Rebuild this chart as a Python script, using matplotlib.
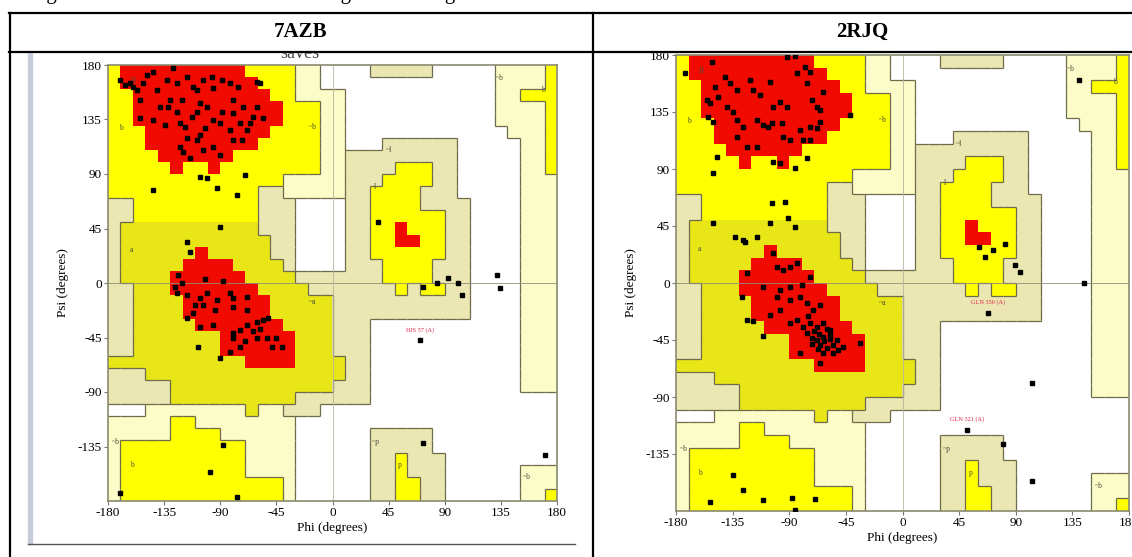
import matplotlib.pyplot as plt
from matplotlib.colors import ListedColormap
from matplotlib.collections import LineCollection
from matplotlib.patches import Rectangle
import numpy as np

plt.rcParams['font.family'] = ['Liberation Serif', 'DejaVu Serif']
plt.rcParams['axes.unicode_minus'] = False

W, H = 1132, 557

# PROCHECK region map, 10 degree cells. rows: psi 180 -> -180, cols: phi -180 -> 180
# R core, Y allowed, A allowed (alpha side), T / P generously allowed, . disallowed
region_rows = [
    "YRRRRRRRRRRYYYYPP....TTTTT.....PPPPY",
    "YRRRRRRRRRRRYYYPP..............PPPPY",
    "YYRRRRRRRRRRRYYPPPP............PPYYY",
    "YYRRRRRRRRRRRRYYYPP............PPPPY",
    "YYRRRRRRRRRRRRYYYPP............PPPPY",
    "YYYRRRRRRRRRRYYYYPP.............PPPY",
    "YYYRRRRRRRRRYYYYYPP...TTTTTT.....PPY",
    "YYYYRRRRRRYYYYYYYPPTTTTTTTTT.....PPY",
    "YYYYYRYYRYYYYYYYYPPTTTTYYYTT.....PPY",
    "YYYYYYYYYYYYYYPPPPPTTTYYYYTT.....PPP",
    "YYYYYYYYYYYYTTPPPPPTTYYYYTTT.....PPP",
    "TTYYYYYYYYYYTTT....TTYYYYTTTT....PPP",
    "TTYYYYYYYYYYTTT....TTYYYYYYTT....PPP",
    "TAAAAAAAAAAATTT....TTYYRYYYTT....PPP",
    "TAAAAAAAAAAAATT....TTYYRRYYTT....PPP",
    "TAAAAAARAAAAATT....TTYYYYYYTT....PPP",
    "TAAAAARRRRAAAAT....TTTYYYYTTT....PPP",
    "TAAAARRRRRRAAAATTTTTTTYYYYTTT....PPP",
    "TTAAARRRRRRRAAAATTTTTTTYTYYTT....PPP",
    "TTAAAARRRRRRRAAAAATTTTTTTTTTT....PPP",
    "TTAAAARRRRRRRAAAAATTTTTTTTTTT....PPP",
    "TTAAAAARRRRRRRAAAATTT............PPP",
    "TTAAAAAAARRRRRRAAATTT............PPP",
    "TTAAAAAAARRRRRRAAATTT............PPP",
    "AAAAAAAAAAARRRRAAAATT............PPP",
    "TTTAAAAAAAAAAAAAAAATT............PPP",
    "TTTTTAAAAAAAAAAAAATTT............PPP",
    "TTTTTAAAAAAAAAATTTTTT...............",
    "...PPPPPPPPAPPTTT...................",
    "PPPPPYYPPPPPPPP.....................",
    "PPPPPYYYYPPPPPP......TTTTT..........",
    "PYYYYYYYYYYPPPP......TTTTT..........",
    "PYYYYYYYYYYPPPP......TTYTTT.........",
    "PYYYYYYYYYYPPPP......TTYTTT......PPP",
    "PYYYYYYYYYYYYYP......TTYYTT......PPP",
    "PYYYYYYYYYYYYYP......TTYYTT......PPY",
]
region_codes = ".PTAYR"
region_colors = ["#ffffff", "#fcfcc8", "#ebe7b2", "#e8e616", "#ffff00", "#f00a00"]

# region letters
label_text = ["B", "b", "a", "~b", "~l", "l", "~a", "~p", "p", "~b", "b", "~b", "b", "~b"]
label_phi = [-160, -170, -161, -16, 45, 34, -16, 35, 54, 134, 169, -174, -161, 156]
label_psi = [167, 128, 27, 129, 110, 79, -16, -131, -150, 169, 159, -131, -150, -160]

# 7AZB residues
azb_phi = [-170.4, -166, -159.7, -157, -149, -154.3, -143.6, -133, -127.6, -130.3,
           -117, -111.6, -103.5, -96.9, -88.8, -82.2, -75.5, -60.8, -58.1, -154.3,
           -143.6, -134.3, -131.6, -122.2, -118.2, -120.9, -108.9, -106.2, -102.2, -116.9,
           -108.9, -106.2, -95.5, -95.5, -88.8, -82.2, -79.5, -74.2, -71.5, -68.8,
           -72.8, -63.4, -55.4, -119.6, -114.2, -106.2, -100.9, -92.9, -70.1, -76.8,
           -143.6, -90.2, -116.9, -114.2, -123.6, -126.3, -121, -162.4, -151.7, -141,
           -124.9, -108.9, -95.5, -79.5, -66.1, -60.8, -138.3, -124.9, -112.9, -100.9,
           -90.2, -79.5, -122.2, -103.5, -90.2,
           -124.9, -116.9, -106.2, -100.9, -92.9, -82.2, -79.5, -68.8, -111.6, -103.5,
           -94.2, -79.5, -68.8, -116.9, -106.2, -95.5, -79.5, -74.2, -68.8, -60.8,
           -55.4, -51.4, -79.5, -60.8, -52.7, -48.7, -40.7, -74.2, -82.2, -107.5,
           -90.2, -102, -88, -110, -64, -58, -70, -45,
           -87.5, -98.2, -170.4, -76.8,
           36.8, 72.8, 83.5, 92.9, 100.9, 103.6, 131.7, 134.3, 70.2, 72.8, 170.4]
azb_psi = [167.6, 163.4, 162, 159, 171.7, 151, 174.5, 167.6, 177.2, 151,
           170, 162, 167.6, 170, 167.6, 164.8, 162, 166.2, 164.8, 136,
           134.5, 130.4, 145.5, 131.8, 129, 151, 141.4, 148.3, 127.7, 119.4,
           118, 122.2, 112.5, 134.5, 141.4, 126.3, 140, 131.8, 145.5, 126.3,
           118, 137.3, 135.9, 108.4, 102.9, 87.7, 86.4, 78.1, 89.1, 72.6,
           76.7, 46.5, 34.1, 25.8, 6.5, -3, 0, 164.8, 164.8, 159.3,
           164.8, 159.3, 160.7, 151, 131.8, 145.5, 145.5, 141.4, 137.3, 145.5,
           131.8, 118, 112.5, 109.8, 105.6,
           -8.6, -9.9, -12.7, -8.6, -14, -8.6, -12.7, -11.3, -25, -18.2,
           -22.3, -19.6, -22.3, -29.2, -36.1, -34.7, -41.6, -38.8, -34.7, -32,
           -30.6, -29.2, -45.7, -45.7, -45.7, -52.6, -52.6, -52.6, -56.7, -52.6,
           -62.2, 3, 2, -18, -40, -38, -48, -45,
           -133.8, -155.8, -173.7, -176.5,
           50.6, -3.1, -0.3, 3.8, -0.3, -10, 6.5, -4.5, -47.1, -132.4, -142.1]
azb_out_name = ["HIS 57 (A)"]
azb_out_phi = [70.2]
azb_out_psi = [-47.1]

# 2RJQ residues
rjq_phi = [-172.9, -151.7, -149, -141.1, -137.1, -131.8, -155.7, -153, -146.4, -139.8,
           -134.5, -121.2, -118.6, -113.3, -105.3, -102.7, -97.4, -92.1, -85.5, -84.1,
           -77.5, -73.5, -76.2, -72.2, -68.2, -65.6, -62.9, -65.6, -73.5, -68.2,
           -81.5, -154.3, -150.4, -131.8, -126.5, -115.9, -110.6, -106.6, -104, -96,
           -92.1, -131.8, -123.8, -115.9, -94.7, -89.4, -78.8, -73.5, -76.2, -41.7,
           -147.7, -150.4, -102.7, -97.4, -85.5, -104, -93.4, -90.8, -85.5, -105.3,
           -150.4, -133.1, -126.5, -125.2, -115.9, -123.8, -102.7, -100, -94.7, -89.4,
           -84.1, -73.5, -80.2, -97.4, -89.4, -110.6, -127.8,
           -123.8, -118.6, -110.6, -105.3, -97.4, -100, -89.4, -81.5, -76.2, -70.9,
           -65.6, -84.1, -78.8, -73.5, -68.2, -62.9, -76.2, -72.2, -68.2, -62.9,
           -57.6, -65.6, -60.3, -55, -51, -47, -57.6, -52.3, -81.5, -65.6,
           -33.8, -89.4, -70, -66, -62, -58, -67, -72, -63, -55, -60, -75,
           -134.5, -126.5, -153, -110.6, -88.1, -69.5, -85.5,
           139.9, 60.4, 65.7, 72.3, 81.6, 89.5, 93.5, 144.4,
           68.3, 102.8, 51.1, 80.2, 102.8]
rjq_psi = [165.5, 174.7, 155, 162.9, 157.6, 152.3, 144.4, 141.8, 147.1, 139.2,
           135.2, 160.2, 152.3, 148.4, 158.9, 139.2, 143.1, 178.6, 179.5, 165.5,
           170.8, 166.8, 157.6, 144.4, 139.2, 136.6, 151, 127.3, 123.4, 122.1,
           120.8, 131.3, 127.3, 128.7, 123.4, 128.7, 124.7, 123.4, 126, 126,
           139.2, 115.5, 107.6, 107.6, 115.5, 112.9, 112.9, 112.9, 98.4, 132.6,
           99.7, 86.6, 95.8, 94.5, 90.5, 62.9, 64.2, 51, 44.5, 47.1,
           47.1, 36.6, 34, 32.6, 36.6, 7.6, 23.4, 12.9, 10.3, 12.9,
           15.5, 5, -1.6, -5.5, -2.9, -2.9, -10.8,
           -29.2, -29.7, -41.5, -25.2, -21.3, -10.8, -13.4, -10.8, -16, -21.3,
           -17.3, -29.2, -34.4, -31.8, -34.4, -31.8, -39.7, -43.7, -45, -42.3,
           -41, -48.9, -51.5, -48.9, -52.9, -50.2, -37.1, -45, -55.5, -63.4,
           -47.6, -31.8, -38, -40, -46, -44, -52, -48, -55, -55, -36, -26,
           -151.5, -163.4, -172.6, -171.3, -169.9, -170.5, -179,
           160.2, 28.7, 20.8, 26.1, 30.8, 14.2, 8.9, -0.3,
           -23.4, -79.2, -116, -127, -156]
rjq_out_name = ["GLN 350 (A)", "GLN 321 (A)"]
rjq_out_phi = [68.3, 51.1]
rjq_out_psi = [-23.4, -116]

ticks = [-180, -135, -90, -45, 0, 45, 90, 135, 180]
yticks = [-135, -90, -45, 0, 45, 90, 135, 180]

fig = plt.figure(figsize=(W / 100, H / 100), dpi=100)


def px_axes(x0, y0, x1, y1, **kw):
    return fig.add_axes([x0 / W, 1 - y1 / H, (x1 - x0) / W, (y1 - y0) / H], **kw)


grid = np.array([[region_codes.index(ch) for ch in row] for row in region_rows])
cmap = ListedColormap(region_colors)

# boundary segments between different regions (not around core, not Y/A)
segs = []
for r in range(grid.shape[0]):
    for c in range(grid.shape[1]):
        a = region_rows[r][c]
        top, bot = 180 - 10 * r, 170 - 10 * r
        left, right = -180 + 10 * c, -170 + 10 * c
        for b, seg in (
            (region_rows[r][c + 1] if c + 1 < 36 else None, [(right, bot), (right, top)]),
            (region_rows[r + 1][c] if r + 1 < 36 else None, [(left, bot), (right, bot)]),
        ):
            if b is None or a == b or "R" in (a, b) or {a, b} == {"Y", "A"}:
                continue
            segs.append(seg)


def draw_panel(ax, phi, psi, out_name, out_phi, out_psi):
    ax.imshow(grid, extent=[-180, 180, -180, 180], origin="upper", cmap=cmap,
              vmin=0, vmax=len(region_colors) - 1, interpolation="nearest",
              aspect="auto", zorder=0)
    ax.add_collection(LineCollection(segs, colors="#6f6b4a", linewidths=0.9, zorder=1))
    ax.axhline(0, color="#8f8f78", lw=0.6, zorder=1.5)
    ax.axvline(0, color="#b5b5a0", lw=0.6, zorder=1.5)
    for t, x, y in zip(label_text, label_phi, label_psi):
        ax.text(x, y, t, fontsize=5.5, color="#4a4a3a", ha="center", va="center", zorder=2)
    ax.plot(phi, psi, "s", color="black", ms=3.2, zorder=4)
    for n, x, y in zip(out_name, out_phi, out_psi):
        ax.text(x, y + 6, n, fontsize=4.5, color="#e0204a", ha="center", va="bottom", zorder=5)
    ax.set_xlim(-180, 180)
    ax.set_ylim(-180, 180)
    ax.set_xticks(ticks)
    ax.set_yticks(yticks)
    ax.tick_params(direction="out", length=3, width=0.8, color="#777777",
                   labelsize=9.5, pad=1.5)
    for s in ax.spines.values():
        s.set_color("#8a8a70")
        s.set_linewidth(1.2)
    ax.set_xlabel("Phi (degrees)", fontsize=9.5, labelpad=2)
    ax.set_ylabel("Psi (degrees)", fontsize=9.5, labelpad=6)


ax1 = px_axes(108, 65, 557, 501)
draw_panel(ax1, azb_phi, azb_psi, azb_out_name, azb_out_phi, azb_out_psi)

ax2 = px_axes(676, 55, 1129, 511)
draw_panel(ax2, rjq_phi, rjq_psi, rjq_out_name, rjq_out_phi, rjq_out_psi)

# table and caption overlay
ov = fig.add_axes([0, 0, 1, 1], zorder=10)
ov.set_xlim(0, W)
ov.set_ylim(H, 0)
ov.axis("off")
ov.patch.set_alpha(0)
ov.add_patch(Rectangle((0, 0), W, 52, color="white", zorder=1))
ov.add_patch(Rectangle((28, 52), 4, 492, color="#c5ced8", zorder=0.8))
ov.plot([28, 575], [544, 544], color="#555555", lw=1, zorder=0.8)
ov.text(300, 53, "saves", fontsize=13, color="#444444", ha="center", va="center", zorder=0.5)
ov.text(29, -1.5, "Figure 6: Ramachandran Plot showing the core region of both structures",
        fontsize=15, ha="left", va="baseline", zorder=3)
for y in (12.5, 52):
    ov.plot([9, W], [y, y], color="black", lw=1.6, zorder=2)
for x in (9.5, 593):
    ov.plot([x, x], [12.5, H], color="black", lw=1.6, zorder=2)
ov.text(301, 32, "7AZB", fontsize=15, fontweight="bold", ha="center", va="center", zorder=3)
ov.text(862, 32, "2RJQ", fontsize=15, fontweight="bold", ha="center", va="center", zorder=3)

fig.savefig("out.png", dpi=100)
